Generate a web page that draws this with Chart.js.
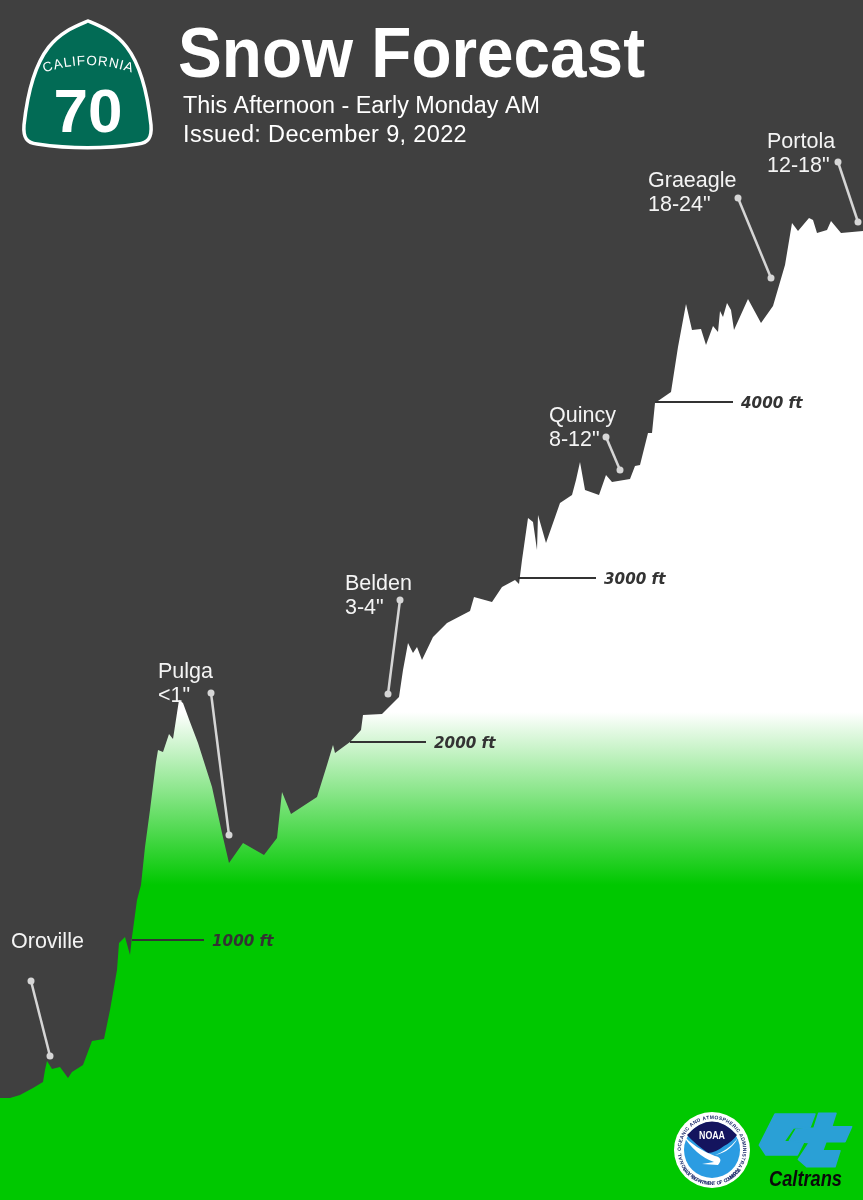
<!DOCTYPE html>
<html>
<head>
<meta charset="utf-8">
<title>Snow Forecast</title>
<script src="https://cdn.jsdelivr.net/npm/chart.js@4"></script>
<style>
  html, body { margin: 0; padding: 0; background: #404040; }
  canvas { display: block; }
</style>
</head>
<body>
<canvas id="chart" width="863" height="1200"></canvas>
<script>
// Highway 70 road profile, left to right
const profileX = [0, 10, 20, 33, 43, 45, 47, 52, 60, 68, 72, 83, 92, 104, 110, 117, 119, 125, 130, 132,
  137, 141, 145, 150, 156, 158, 163, 169, 173, 179, 183, 190, 198, 212, 217, 222, 229, 243, 264, 277,
  282, 291, 317, 327, 333, 335, 350, 361, 363, 382, 399, 403, 408, 413, 417, 422, 433, 447, 470, 474,
  492, 502, 515, 519, 522, 528, 533, 537, 538, 546, 560, 572, 576, 580, 585, 599, 606, 612, 630, 635,
  640, 648, 652, 655, 671, 678, 686, 692, 701, 706, 713, 718, 720, 723, 727, 731, 734, 748, 761, 773,
  785, 792, 798, 809, 813, 817, 827, 831, 841, 863];
const profileHeight = [102, 102, 105, 112, 118, 130, 139, 131, 133, 122, 128, 135, 159, 161, 190, 230, 257, 263, 245, 263,
  300, 315, 353, 390, 438, 450, 448, 466, 461, 500, 497, 478, 457, 413, 390, 367, 337, 357, 345, 362,
  408, 386, 403, 435, 455, 447, 458, 470, 485, 486, 503, 530, 557, 547, 553, 540, 563, 577, 589, 603,
  598, 613, 620, 616, 640, 682, 678, 650, 685, 657, 697, 705, 720, 738, 710, 705, 725, 718, 721, 734,
  735, 767, 767, 797, 808, 853, 896, 870, 871, 855, 874, 868, 889, 883, 897, 890, 870, 901, 877, 894,
  935, 977, 969, 982, 980, 967, 970, 979, 967, 969];

// elevation reference lines
const elevationLabels = ['1000 ft', '2000 ft', '3000 ft', '4000 ft'];
const elevationStartX = [132, 350, 518, 655];
const elevationEndX = [204, 426, 596, 733];
const elevationHeight = [260, 458, 622, 798];

// towns and their snow totals
const townNames = ['Oroville', 'Pulga', 'Belden', 'Quincy', 'Graeagle', 'Portola'];
const townSnow = ['', '<1"', '3-4"', '8-12"', '18-24"', '12-18"'];
const townLabelX = [11, 158, 345, 549, 648, 767];
const townLabelHeight = [252, 522, 610, 778, 1013, 1052];
const leaderTopX = [31, 211, 400, 606, 738, 838];
const leaderTopHeight = [219, 507, 600, 763, 1002, 1038];
const leaderEndX = [50, 229, 388, 620, 771, 858];
const leaderEndHeight = [144, 365, 506, 730, 922, 978];

const titleText = 'Snow Forecast';
const subtitleLines = ['This Afternoon - Early Monday AM', 'Issued: December 9, 2022'];

const GREEN = '#00c800';

function snowGradient(chart) {
  const y = chart.scales.y;
  const g = chart.ctx.createLinearGradient(0, y.getPixelForValue(488), 0, y.getPixelForValue(315));
  g.addColorStop(0, '#ffffff');
  g.addColorStop(1, GREEN);
  return g;
}

const datasets = [{
  data: profileX.map((x, i) => ({ x: x, y: profileHeight[i] })),
  order: 5, // higher order is drawn first, the lines have to sit on top
  borderWidth: 0,
  pointRadius: 0,
  tension: 0,
  fill: 'start',
  backgroundColor: ctx => ctx.chart.chartArea ? snowGradient(ctx.chart) : GREEN
}];

elevationLabels.forEach((l, i) => {
  datasets.push({
    data: [{ x: elevationStartX[i], y: elevationHeight[i] }, { x: elevationEndX[i], y: elevationHeight[i] }],
    borderColor: '#333333',
    borderWidth: 2,
    pointRadius: 0,
    fill: false
  });
});

townNames.forEach((n, i) => {
  datasets.push({
    data: [{ x: leaderTopX[i], y: leaderTopHeight[i] }, { x: leaderEndX[i], y: leaderEndHeight[i] }],
    borderColor: '#d6d6d6',
    backgroundColor: '#d6d6d6',
    borderWidth: 2.5,
    pointRadius: 3.5,
    pointBorderWidth: 0,
    fill: false
  });
});

function arcText(ctx, text, cx, cy, r, spacing) {
  let total = 0;
  const widths = [...text].map(c => { const w = ctx.measureText(c).width + spacing; total += w; return w; });
  let a = -total / 2 / r;
  ctx.textAlign = 'center';
  [...text].forEach((c, i) => {
    const mid = a + widths[i] / 2 / r;
    ctx.save();
    ctx.translate(cx + r * Math.sin(mid), cy - r * Math.cos(mid));
    ctx.rotate(mid);
    ctx.fillText(c, 0, 0);
    ctx.restore();
    a += widths[i] / r;
  });
  ctx.textAlign = 'left';
}

function drawShield(ctx) {
  ctx.beginPath();
  ctx.moveTo(88, 21);
  ctx.bezierCurveTo(114, 32, 142, 42, 151, 125);
  ctx.bezierCurveTo(152, 138, 148, 143, 138, 144);
  ctx.bezierCurveTo(105, 149, 70, 149, 37, 144);
  ctx.bezierCurveTo(27, 143, 23, 138, 24, 125);
  ctx.bezierCurveTo(33, 42, 62, 32, 88, 21);
  ctx.closePath();
  ctx.fillStyle = '#026b55';
  ctx.fill();
  ctx.strokeStyle = '#ffffff';
  ctx.lineWidth = 3.5;
  ctx.stroke();
  ctx.fillStyle = '#ffffff';
  ctx.font = '13.5px "Liberation Sans"';
  arcText(ctx, 'CALIFORNIA', 88, 193, 128, 0.9);
  ctx.font = 'bold 62px "Liberation Sans"';
  ctx.textAlign = 'center';
  ctx.fillText('70', 88, 132);
  ctx.textAlign = 'left';
}

function drawNoaa(ctx) {
  const cx = 712, cy = 1150;
  ctx.fillStyle = '#ffffff';
  ctx.beginPath(); ctx.arc(cx, cy, 38, 0, Math.PI * 2); ctx.fill();
  // ring lettering
  ctx.fillStyle = '#1b2a6b';
  ctx.font = 'bold 5px "Liberation Sans"';
  arcText(ctx, 'NATIONAL OCEANIC AND ATMOSPHERIC ADMINISTRATION', cx, cy, 31, 0.3);
  ctx.save();
  ctx.translate(cx, cy);
  let a = 0.95;
  for (const c of 'U.S. DEPARTMENT OF COMMERCE') {
    ctx.save();
    ctx.rotate(a);
    ctx.textAlign = 'center';
    ctx.fillText(c, 0, 35);
    ctx.restore();
    a -= 0.072;
  }
  ctx.restore();
  ctx.textAlign = 'left';
  // blue lower part
  ctx.fillStyle = '#2b9ce2';
  ctx.beginPath(); ctx.arc(cx, cy, 28, 0, Math.PI * 2); ctx.fill();
  // navy sky
  ctx.fillStyle = '#14145e';
  ctx.beginPath();
  ctx.moveTo(cx - 25, cy - 15);
  ctx.quadraticCurveTo(cx, cy - 42, cx + 25, cy - 15);
  ctx.quadraticCurveTo(cx + 20, cy - 8, cx + 12, cy - 4);
  ctx.quadraticCurveTo(cx + 3, cy + 3, cx - 4, cy + 3);
  ctx.quadraticCurveTo(cx - 18, cy - 7, cx - 25, cy - 15);
  ctx.fill();
  // white gull
  ctx.fillStyle = '#ffffff';
  ctx.beginPath();
  ctx.moveTo(cx - 30, cy - 16);
  ctx.quadraticCurveTo(cx - 16, cy + 6, cx + 2, cy + 12);
  ctx.lineTo(cx - 10, cy + 14);
  ctx.lineTo(cx + 6, cy + 15);
  ctx.quadraticCurveTo(cx + 12, cy + 8, cx + 3, cy + 6);
  ctx.quadraticCurveTo(cx - 18, cy - 2, cx - 30, cy - 16);
  ctx.fill();
  ctx.beginPath();
  ctx.moveTo(cx + 28, cy - 16);
  ctx.quadraticCurveTo(cx + 22, cy - 4, cx + 8, cy + 3);
  ctx.lineTo(cx + 3, cy + 5);
  ctx.quadraticCurveTo(cx + 20, cy + 2, cx + 28, cy - 16);
  ctx.fill();
  ctx.font = 'bold 11px "Liberation Sans"';
  ctx.textAlign = 'center';
  ctx.fillText('NOAA', cx, cy - 11, 26);
  ctx.textAlign = 'left';
}

function poly(ctx, pts) {
  ctx.beginPath();
  pts.forEach((p, i) => {
    const x = 660 + p[0] / 3, y = 1100 + p[1] / 3;
    if (i) ctx.lineTo(x, y); else ctx.moveTo(x, y);
  });
  ctx.closePath();
  ctx.fill();
  ctx.stroke();
}

function drawCaltrans(ctx) {
  ctx.fillStyle = '#2aa0d6';
  ctx.strokeStyle = '#2aa0d6';
  ctx.lineWidth = 1.5;
  ctx.lineJoin = 'round';
  poly(ctx, [[345, 42], [465, 42], [450, 82], [400, 84], [372, 125], [432, 125], [412, 165], [318, 165], [298, 135]]);
  poly(ctx, [[476, 40], [528, 40], [515, 80], [575, 80], [555, 125], [498, 125], [488, 152], [540, 152], [525, 200], [440, 200], [415, 178], [448, 128], [388, 122], [408, 88], [462, 84]]);
  ctx.fillStyle = '#0a0a0a';
  ctx.font = 'italic bold 22px "Liberation Sans"';
  ctx.fillText('Caltrans', 769, 1186, 73);
}

const decorations = {
  id: 'decorations',
  afterDatasetsDraw(chart) {
    const ctx = chart.ctx, sx = chart.scales.x, sy = chart.scales.y;
    ctx.save();
    ctx.textBaseline = 'alphabetic';
    drawShield(ctx);

    ctx.fillStyle = '#ffffff';
    ctx.font = 'bold 70px "Liberation Sans"';
    ctx.fillText(titleText, 178, 77, 467);
    ctx.font = '23.5px "Liberation Sans"';
    ctx.fillText(subtitleLines[0], 183, 113, 357);
    ctx.letterSpacing = '0.35px';
    ctx.fillText(subtitleLines[1], 183, 142);
    ctx.letterSpacing = '0px';

    ctx.fillStyle = '#f4f4f4';
    ctx.font = '21.5px "Liberation Sans"';
    townNames.forEach((n, i) => {
      const x = sx.getPixelForValue(townLabelX[i]);
      const y = sy.getPixelForValue(townLabelHeight[i]);
      ctx.fillText(n, x, y);
      ctx.fillText(townSnow[i], x, y + 24);
    });

    ctx.fillStyle = '#333333';
    ctx.font = 'italic bold 15.2px "DejaVu Sans"';
    elevationLabels.forEach((l, i) => {
      ctx.fillText(l, sx.getPixelForValue(elevationEndX[i]) + 8, sy.getPixelForValue(elevationHeight[i]) + 6);
    });

    drawNoaa(ctx);
    drawCaltrans(ctx);
    ctx.restore();
  }
};

new Chart(document.getElementById('chart').getContext('2d'), {
  type: 'line',
  data: { datasets: datasets },
  plugins: [decorations],
  options: {
    responsive: false,
    animation: false,
    parsing: false,
    layout: { padding: 0, autoPadding: false },
    plugins: { legend: { display: false }, tooltip: { enabled: false }, title: { display: false } },
    scales: {
      x: { type: 'linear', min: 0, max: 863, display: false },
      y: { type: 'linear', min: 0, max: 1200, display: false }
    }
  }
});
</script>
</body>
</html>
